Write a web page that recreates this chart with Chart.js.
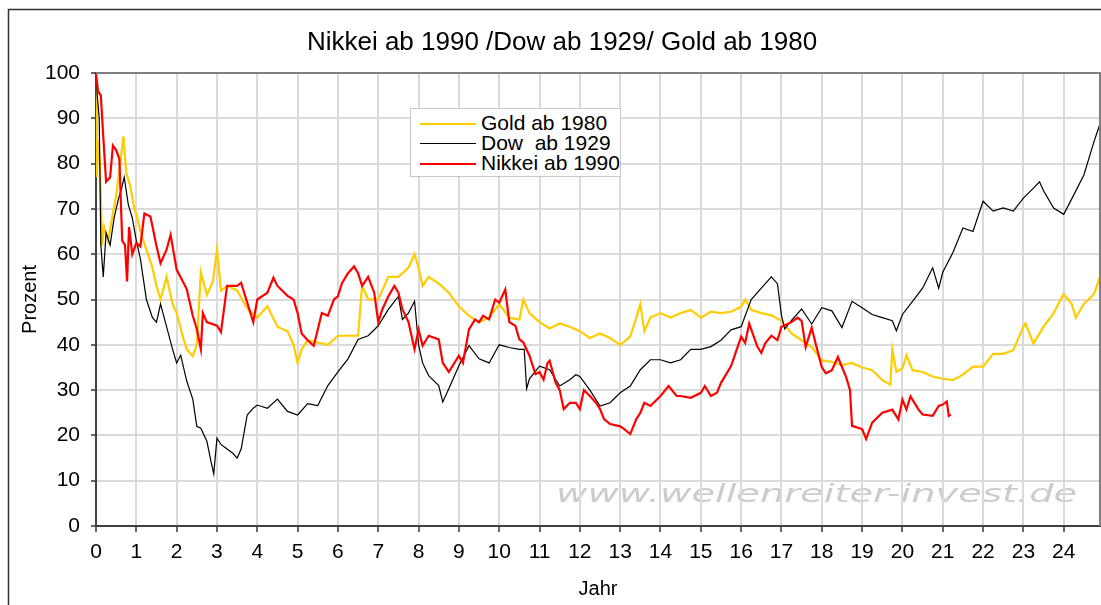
<!DOCTYPE html>
<html>
<head>
<meta charset="utf-8">
<script src="https://cdn.jsdelivr.net/npm/chart.js@4.4.0/dist/chart.umd.min.js"></script>
<style>
  body { margin: 0; background: #fff; }
  .wrap { position: relative; width: 1101px; height: 605px; }
  .legend {
    position: absolute; left: 410px; top: 108px; width: 211px; height: 69px;
    background: #fff; border: 1px solid #c8c8c8;
    font-family: "Liberation Sans", Arial, sans-serif; font-size: 21px; line-height: 20px;
    padding-top: 4px; box-sizing: border-box;
  }
  .legend div { position: relative; padding-left: 70px; height: 20px; white-space: pre; }
  .legend span { position: absolute; left: 9px; top: 10px; width: 56px; }
</style>
</head>
<body>
<div class="wrap">
  <canvas id="myChart" width="1101" height="605"></canvas>
  <div class="legend">
    <div><span style="border-top:2px solid #ffcc00"></span>Gold ab 1980</div>
    <div><span style="border-top:1px solid #000"></span>Dow  ab 1929</div>
    <div><span style="border-top:2px solid #ff0000"></span>Nikkei ab 1990</div>
  </div>
</div>
<script>
// Daten (Jahre seit Start / Prozent vom Startwert)
const goldYears = [
  0, 0.02, 0.05, 0.1, 0.15, 0.2, 0.3, 0.4, 0.5, 0.6,
  0.68, 0.75, 0.85, 0.95, 1.0, 1.1, 1.25, 1.4, 1.5, 1.6,
  1.75, 1.9, 2.0, 2.15, 2.25, 2.4, 2.5, 2.6, 2.75, 2.9,
  3.0, 3.1, 3.25, 3.5, 3.75, 4.0, 4.25, 4.5, 4.75, 4.9,
  5.0, 5.1, 5.25, 5.5, 5.75, 6.0, 6.25, 6.5, 6.6, 6.75,
  7.0, 7.25, 7.5, 7.75, 7.9, 8.0, 8.1, 8.25, 8.5, 8.75,
  9.0, 9.25, 9.5, 9.75, 10.0, 10.25, 10.5, 10.6, 10.75, 11.0,
  11.25, 11.5, 11.75, 12.0, 12.25, 12.5, 12.75, 13.0, 13.25, 13.4,
  13.5, 13.6, 13.75, 14.0, 14.25, 14.5, 14.75, 15.0, 15.25, 15.5,
  15.75, 16.0, 16.1, 16.25, 16.5, 16.75, 17.0, 17.25, 17.5, 17.75,
  18.0, 18.25, 18.5, 18.75, 19.0, 19.25, 19.5, 19.7, 19.75, 19.85,
  20.0, 20.1, 20.25, 20.5, 20.75, 21.0, 21.25, 21.5, 21.75, 22.0,
  22.25, 22.5, 22.75, 23.0, 23.05, 23.25, 23.5, 23.75, 24.0, 24.2,
  24.3, 24.5, 24.75, 24.9
];
const goldValues = [
  97, 77, 85, 80, 62, 66, 63, 68, 73, 80,
  86, 78, 75, 70, 69, 65, 61, 57, 53, 50,
  55, 49, 47, 42, 39, 37.5, 40, 56, 51, 54,
  61, 52, 53, 52, 48, 46, 48.5, 44, 43, 40,
  36, 39, 41, 40.5, 40, 42, 42, 42, 53, 50,
  50, 55, 55, 57, 60, 57, 53, 55, 53.5, 51.5,
  48.5, 46.4, 45, 46, 49, 46, 45.6, 50, 47, 45,
  43.6, 44.7, 44, 43, 41.5, 42.5, 41.5, 40, 41.8, 46,
  49, 43, 46, 47, 46, 47, 47.7, 46, 47.3, 47,
  47.3, 48.4, 50, 47.7, 47, 46.5, 45.3, 42.5, 41, 39.5,
  36.6, 36.2, 35.5, 36, 35, 34.4, 32.2, 31.2, 39, 34,
  34.8, 37.7, 34.4, 34, 33, 32.5, 32.2, 33.4, 35.2, 35.2,
  38, 38, 38.8, 44, 44.7, 40.3, 44, 47, 51.2, 49,
  46, 49, 51.2, 55
];

const dowYears = [
  0, 0.03, 0.08, 0.12, 0.18, 0.25, 0.35, 0.45, 0.55, 0.62,
  0.7, 0.8, 0.9, 1.0, 1.1, 1.25, 1.4, 1.5, 1.6, 1.75,
  1.9, 2.0, 2.1, 2.25, 2.4, 2.5, 2.6, 2.75, 2.85, 2.92,
  3.0, 3.1, 3.25, 3.4, 3.5, 3.6, 3.75, 3.9, 4.0, 4.25,
  4.5, 4.75, 5.0, 5.25, 5.5, 5.75, 6.0, 6.25, 6.5, 6.75,
  7.0, 7.25, 7.5, 7.6, 7.75, 7.9, 8.0, 8.1, 8.25, 8.5,
  8.6, 8.75, 9.0, 9.25, 9.5, 9.75, 10.0, 10.25, 10.5, 10.62,
  10.68, 10.75, 11.0, 11.25, 11.5, 11.75, 11.9, 12.0, 12.25, 12.5,
  12.75, 13.0, 13.25, 13.5, 13.75, 14.0, 14.25, 14.5, 14.75, 15.0,
  15.25, 15.5, 15.75, 16.0, 16.25, 16.5, 16.75, 16.9, 17.0, 17.08,
  17.25, 17.5, 17.75, 18.0, 18.25, 18.5, 18.75, 19.0, 19.25, 19.5,
  19.75, 19.85, 20.0, 20.25, 20.5, 20.75, 20.9, 21.0, 21.25, 21.5,
  21.75, 22.0, 22.25, 22.5, 22.75, 23.0, 23.25, 23.4, 23.5, 23.75,
  24.0, 24.25, 24.5, 24.75, 24.9
];
const dowValues = [
  100, 95, 90, 62, 55, 64.7, 62, 68, 72, 74,
  77, 71, 68, 63, 59, 50, 46, 45, 49, 44,
  39, 36, 37.7, 32, 28, 22, 21.6, 18.7, 14.3, 11.5,
  19.4, 18, 17, 16, 15, 17, 24.5, 26, 26.7, 26,
  28, 25.3, 24.5, 27, 26.6, 31, 34, 36.9, 41.2, 42,
  44.2, 47.8, 50.7, 45.6, 47, 49.6, 40, 36, 33.2, 31,
  27.4, 30.3, 35.4, 39.8, 36.9, 36, 40, 39.4, 39, 39,
  30.3, 32.5, 35.3, 34.5, 30.9, 32.3, 33.4, 33, 30, 26.5,
  27.2, 29.4, 30.9, 34.5, 36.7, 36.7, 36, 36.7, 39, 39,
  39.6, 41, 43.3, 44, 50, 52.5, 55, 53.5, 46.5, 43.5,
  45.4, 47.9, 44.6, 48.2, 47.5, 43.8, 49.6, 48.2, 46.7, 46,
  45.3, 43.1, 46.7, 49.6, 52.5, 57, 52.5, 56, 60.3, 65.8,
  65, 71.7, 69.5, 70.2, 69.5, 72.4, 74.6, 76, 74, 70.2,
  68.8, 73.1, 77.5, 84.8, 88.8
];

const nikkeiYears = [
  0, 0.05, 0.12, 0.18, 0.25, 0.35, 0.42, 0.5, 0.58, 0.65,
  0.72, 0.77, 0.82, 0.9, 1.0, 1.1, 1.2, 1.35, 1.5, 1.6,
  1.75, 1.85, 2.0, 2.25, 2.4, 2.5, 2.6, 2.65, 2.75, 3.0,
  3.1, 3.25, 3.5, 3.6, 3.75, 3.9, 4.0, 4.25, 4.4, 4.5,
  4.75, 4.9, 5.0, 5.1, 5.25, 5.4, 5.5, 5.6, 5.75, 5.9,
  6.0, 6.1, 6.25, 6.4, 6.5, 6.6, 6.75, 6.9, 7.0, 7.1,
  7.25, 7.4, 7.5, 7.6, 7.75, 7.9, 8.0, 8.1, 8.25, 8.5,
  8.6, 8.75, 9.0, 9.1, 9.25, 9.4, 9.5, 9.6, 9.75, 9.9,
  10.0, 10.15, 10.25, 10.4, 10.5, 10.6, 10.75, 10.9, 11.0, 11.1,
  11.2, 11.25, 11.4, 11.5, 11.6, 11.75, 11.9, 12.0, 12.1, 12.25,
  12.4, 12.5, 12.6, 12.75, 13.0, 13.1, 13.25, 13.4, 13.5, 13.6,
  13.75, 14.0, 14.2, 14.4, 14.5, 14.75, 15.0, 15.1, 15.25, 15.4,
  15.5, 15.75, 16.0, 16.1, 16.2, 16.4, 16.5, 16.6, 16.75, 16.9,
  17.0, 17.25, 17.4, 17.5, 17.6, 17.75, 17.85, 18.0, 18.1, 18.25,
  18.4, 18.5, 18.6, 18.7, 18.75, 19.0, 19.1, 19.25, 19.5, 19.75,
  19.9, 20.0, 20.1, 20.2, 20.4, 20.5, 20.75, 20.9, 21.0, 21.1,
  21.15, 21.2
];
const nikkeiValues = [
  100, 96, 95, 86, 76, 77, 84, 83, 81, 63,
  62, 54, 66, 60, 62.5, 61.7, 69, 68.3, 61.8, 58,
  61, 64.3, 56.6, 52.3, 46.4, 43.5, 39, 47, 45, 44.2,
  42.8, 53, 53, 53.7, 49.3, 45, 50, 51.5, 54.8, 53,
  50.8, 50, 47, 42.5, 41, 39.8, 43.4, 47, 46.4, 50,
  50.7, 53.6, 55.8, 57.3, 55.8, 53, 55, 51.5, 45, 47.8,
  50.7, 53, 51.5, 47.8, 45, 39, 43.4, 39.8, 42, 41.2,
  36, 34, 37.6, 36, 43.4, 45.6, 45, 46.4, 45.6, 50,
  49.3, 52.2, 45, 44.2, 41.2, 40.5, 37.6, 33.5, 34, 32.3,
  36, 36.5, 31.6, 30, 25.8, 27.2, 27.2, 25.8, 30, 28.7,
  27.2, 25.8, 23.6, 22.5, 22, 21.4, 20.3, 23.6, 25, 27.2,
  26.5, 28.7, 30.9, 28.7, 28.7, 28.3, 29.4, 30.9, 28.7, 29.4,
  31.6, 35.3, 41.8, 40.4, 44.7, 39.6, 38.2, 40.4, 42, 41,
  44, 45, 46, 45.3, 39.5, 43.8, 40.2, 35.1, 33.7, 34.4,
  37.3, 35.1, 33, 30, 22.1, 21.4, 19.2, 22.8, 25, 25.7,
  23.5, 27.9, 25.7, 28.6, 25.7, 24.6, 24.3, 26.5, 26.8, 27.5,
  24.3, 24.6
];

const xTicks = [0,1,2,3,4,5,6,7,8,9,10,11,12,13,14,15,16,17,18,19,20,21,22,23,24];
const yTicks = [0,10,20,30,40,50,60,70,80,90,100];

const toPoints = (xs, ys) => xs.map((x, i) => ({ x: x, y: ys[i] }));

const FONT = '"Liberation Sans", Arial, sans-serif';

// Rahmen, Titel und Wasserzeichen
const decoPlugin = {
  id: 'deco',
  beforeDraw(chart) {
    const c = chart.ctx;
    c.save();
    // Wasserzeichen
    c.fillStyle = '#cccccc';
    c.font = 'italic 24px "DejaVu Sans", sans-serif';
    c.textBaseline = 'alphabetic';
    c.translate(556, 502);
    c.scale(1.6, 1);
    c.fillText('www.wellenreiter-invest.de', 0, 0);
    c.restore();
  },
  afterDraw(chart) {
    const c = chart.ctx;
    const a = chart.chartArea;
    c.save();
    // äußerer Rahmen
    c.strokeStyle = '#333';
    c.lineWidth = 1.5;
    c.beginPath();
    c.moveTo(8.5, 605);
    c.lineTo(8.5, 9.5);
    c.lineTo(1101, 9.5);
    c.stroke();
    // oben / rechts grau
    c.strokeStyle = '#808080';
    c.lineWidth = 2;
    c.beginPath();
    c.moveTo(a.left, a.top);
    c.lineTo(a.right, a.top);
    c.lineTo(a.right, a.bottom);
    c.stroke();
    // Titel
    c.fillStyle = '#000';
    c.font = '26px ' + FONT;
    c.textAlign = 'center';
    c.textBaseline = 'middle';
    c.fillText('Nikkei ab 1990 /Dow ab 1929/ Gold ab 1980', 562, 43);
    c.restore();
  }
};

var ctx = document.getElementById('myChart').getContext('2d');
new Chart(ctx, {
  type: 'line',
  data: {
    datasets: [
      {
        label: 'Nikkei ab 1990',
        data: toPoints(nikkeiYears, nikkeiValues),
        borderColor: '#ff0000',
        borderWidth: 2.2,
        pointRadius: 0,
        tension: 0,
        order: 0
      },
      {
        label: 'Dow  ab 1929',
        data: toPoints(dowYears, dowValues),
        borderColor: '#000000',
        borderWidth: 1.2,
        pointRadius: 0,
        tension: 0,
        order: 1
      },
      {
        label: 'Gold ab 1980',
        data: toPoints(goldYears, goldValues),
        borderColor: '#ffcc00',
        borderWidth: 2.2,
        pointRadius: 0,
        tension: 0,
        order: 2
      }
    ]
  },
  options: {
    responsive: false,
    animation: false,
    layout: { padding: { top: 73, left: 0, right: 1, bottom: 0 } },
    scales: {
      x: {
        type: 'linear',
        min: 0,
        max: 24.9,
        afterBuildTicks: (scale) => { scale.ticks = xTicks.map(v => ({ value: v })); },
        afterFit: (scale) => { scale.height = 79; },
        grid: { color: '#dadada', lineWidth: 2, tickLength: 6, tickColor: '#333', tickWidth: 1.5 },
        border: { color: '#404040', width: 2 },
        ticks: { color: '#000', font: { family: FONT, size: 21 }, padding: 8, maxRotation: 0, autoSkip: false },
        title: { display: true, text: 'Jahr', color: '#000', font: { family: FONT, size: 20 }, padding: { top: 4, bottom: 4 } }
      },
      y: {
        min: 0,
        max: 100,
        afterBuildTicks: (scale) => { scale.ticks = yTicks.map(v => ({ value: v })); },
        afterFit: (scale) => { scale.width = 96; },
        grid: { color: '#dadada', lineWidth: 2, tickLength: 5, tickColor: '#333', tickWidth: 1.5 },
        border: { color: '#404040', width: 2 },
        ticks: { color: '#000', font: { family: FONT, size: 21 }, padding: 11 },
        title: { display: true, text: 'Prozent', color: '#000', font: { family: FONT, size: 20 }, padding: { top: 18, bottom: 0 } }
      }
    },
    plugins: {
      legend: { display: false },
      title: { display: false },
      tooltip: { enabled: false }
    }
  },
  plugins: [decoPlugin]
});
</script>
</body>
</html>
